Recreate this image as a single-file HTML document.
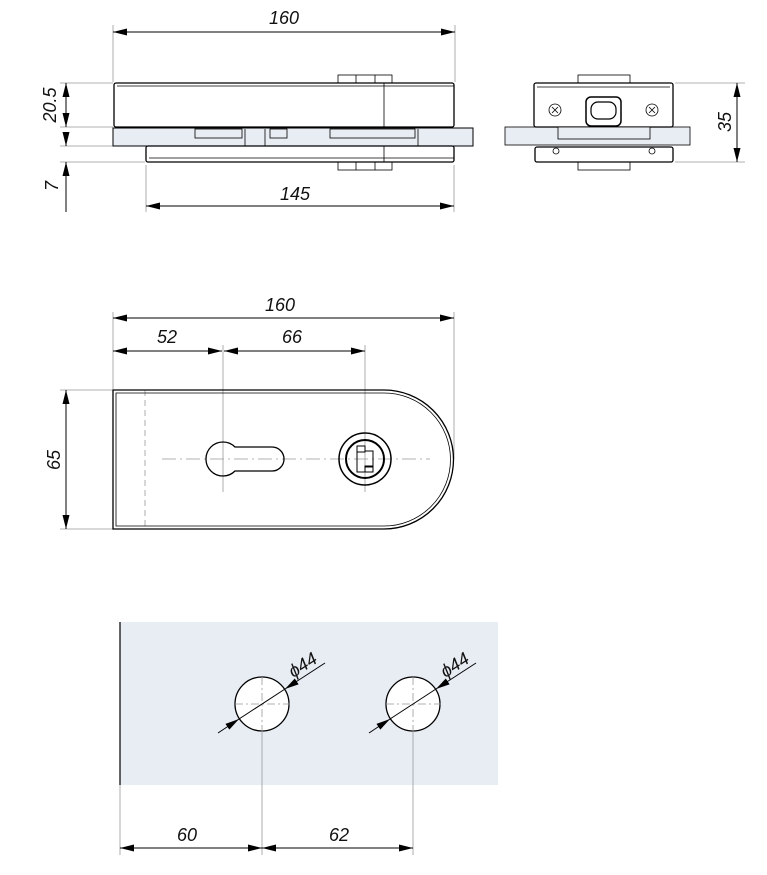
<!DOCTYPE html>
<html><head><style>body{margin:0;background:#fff}svg{display:block}text{font-family:"Liberation Sans",sans-serif;font-style:italic;font-size:18px;fill:#111}</style></head><body>
<svg width="767" height="875" viewBox="0 0 767 875" xmlns="http://www.w3.org/2000/svg">
<defs>
<marker id="a" viewBox="0 0 14 7" refX="14" refY="3.5" markerWidth="14" markerHeight="7" orient="auto-start-reverse" markerUnits="userSpaceOnUse"><path d="M0,0L14,3.5L0,7z" fill="#000"/></marker>
</defs>
<g stroke="#000" fill="none">
<g stroke="#999" stroke-width="0.8">
<line x1="113" y1="25" x2="113" y2="82"/><line x1="455" y1="25" x2="455" y2="82"/>
<line x1="60" y1="83" x2="113" y2="83"/><line x1="60" y1="127" x2="113" y2="127"/>
<line x1="60" y1="146" x2="113" y2="146"/><line x1="60" y1="162" x2="145" y2="162"/>
<line x1="146" y1="165" x2="146" y2="212"/><line x1="454" y1="165" x2="454" y2="212"/>
</g>
<line x1="113" y1="32" x2="455" y2="32" stroke-width="1" marker-start="url(#a)" marker-end="url(#a)"/>
<line x1="66" y1="83" x2="66" y2="127" marker-start="url(#a)" marker-end="url(#a)"/>
<line x1="66" y1="132" x2="66" y2="146" marker-end="url(#a)"/>
<line x1="66" y1="212" x2="66" y2="162" marker-end="url(#a)"/>
<line x1="146" y1="206" x2="454" y2="206" marker-start="url(#a)" marker-end="url(#a)"/>
<rect x="113" y="128" width="360" height="18" fill="#e8edf4" stroke-width="1"/>
<rect x="338" y="75" width="54" height="8" fill="#fff" stroke-width="0.8"/>
<line x1="356" y1="75" x2="356" y2="83" stroke-width="0.8"/><line x1="375" y1="75" x2="375" y2="83" stroke-width="0.8"/>
<rect x="338" y="162" width="54" height="8" fill="#fff" stroke-width="0.8"/>
<line x1="356" y1="162" x2="356" y2="170" stroke-width="0.8"/><line x1="375" y1="162" x2="375" y2="170" stroke-width="0.8"/>
<rect x="114" y="83" width="340" height="44" rx="2" fill="#fff" stroke-width="1.3"/>
<line x1="117" y1="86" x2="454" y2="86" stroke-width="0.8"/>
<line x1="384" y1="83" x2="384" y2="127" stroke-width="0.8"/>
<rect x="146" y="146" width="308" height="16" rx="2" fill="#fff" stroke-width="1.3"/>
<line x1="149" y1="158" x2="454" y2="158" stroke-width="0.8"/>
<line x1="384" y1="146" x2="384" y2="162" stroke-width="0.8"/>
<g stroke-width="0.8"><rect x="195" y="129" width="47" height="9"/><rect x="270" y="129" width="17" height="9"/><rect x="330" y="129" width="85" height="9"/>
<line x1="245" y1="129" x2="245" y2="146"/><line x1="265" y1="129" x2="265" y2="146"/><line x1="418" y1="129" x2="418" y2="146"/></g>
<rect x="505" y="127" width="185" height="18" fill="#e8edf4" stroke-width="0.8"/>
<rect x="578" y="75" width="52" height="8" fill="#fff" stroke-width="0.8"/>
<rect x="578" y="162" width="52" height="8" fill="#fff" stroke-width="0.8"/>
<rect x="534" y="83" width="139" height="44" rx="2" fill="#fff" stroke-width="1.3"/>
<line x1="537" y1="87" x2="670" y2="87" stroke-width="0.8"/>
<rect x="558" y="127" width="92" height="12" fill="#e8edf4" stroke-width="0.8"/>
<rect x="535" y="147" width="138" height="15" rx="2" fill="#fff" stroke-width="1.3"/>
<circle cx="556" cy="151" r="3" stroke-width="0.8"/><circle cx="652" cy="151" r="3" stroke-width="0.8"/>
<rect x="586" y="97" width="35" height="29" rx="5" stroke-width="1.5"/>
<rect x="591" y="102" width="25" height="17" rx="7" stroke-width="1.2"/>
<circle cx="555" cy="110" r="6" stroke-width="0.8"/><path d="M552,107l6,6M558,107l-6,6" stroke-width="0.8"/>
<circle cx="652" cy="110" r="6" stroke-width="0.8"/><path d="M649,107l6,6M655,107l-6,6" stroke-width="0.8"/>
<line x1="675" y1="83" x2="745" y2="83" stroke="#999" stroke-width="0.8"/><line x1="675" y1="162" x2="745" y2="162" stroke="#999" stroke-width="0.8"/>
<line x1="737" y1="83" x2="737" y2="162" marker-start="url(#a)" marker-end="url(#a)"/>
<g stroke="#999" stroke-width="0.8">
<line x1="113" y1="312" x2="113" y2="389"/><line x1="454" y1="312" x2="454" y2="459"/>
<line x1="223" y1="345" x2="223" y2="492"/><line x1="365" y1="345" x2="365" y2="492"/>
<line x1="60" y1="390" x2="113" y2="390"/><line x1="60" y1="529" x2="113" y2="529"/>
<line x1="162" y1="459" x2="430" y2="459" stroke-dasharray="14,4,2,4"/>
<line x1="145" y1="390" x2="145" y2="529" stroke-dasharray="6,4"/>
</g>
<line x1="113" y1="318" x2="454" y2="318" marker-start="url(#a)" marker-end="url(#a)"/>
<line x1="113" y1="351" x2="222" y2="351" marker-start="url(#a)" marker-end="url(#a)"/>
<line x1="224" y1="351" x2="365" y2="351" marker-start="url(#a)" marker-end="url(#a)"/>
<line x1="66" y1="390" x2="66" y2="529" marker-start="url(#a)" marker-end="url(#a)"/>
<path d="M113,390H384A69.5,69.5 0 0 1 384,529H113Z" stroke-width="1.3"/>
<path d="M116,393H384A66.5,66.5 0 0 1 384,526H116Z" stroke-width="0.8"/>
<path d="M235,447H272A12,12 0 0 1 272,471H235A17,17 0 1 1 235,447Z" stroke-width="1.3"/>
<circle cx="365" cy="459" r="26" stroke-width="1.5"/>
<circle cx="365" cy="459" r="19" stroke-width="2"/>
<path d="M357,446h8v5h8v16h-8v5h-8z" stroke-width="1"/>
<rect x="357" y="446" width="8" height="6" stroke-width="1"/><rect x="365" y="466" width="8" height="6" stroke-width="1"/>
<rect x="120" y="622" width="378" height="163" fill="#e8edf4" stroke="none"/>
<line x1="120" y1="622" x2="120" y2="785" stroke-width="1.2"/>
<g stroke="#999" stroke-width="0.8">
<line x1="120" y1="785" x2="120" y2="855"/><line x1="262" y1="733" x2="262" y2="855"/><line x1="413" y1="733" x2="413" y2="855"/>
</g>
<circle cx="262" cy="704" r="27" fill="#fff" stroke-width="1.3"/>
<circle cx="413" cy="704" r="27" fill="#fff" stroke-width="1.3"/>
<g stroke="#999" stroke-width="0.8">
<line x1="235" y1="704" x2="290" y2="704" stroke-dasharray="8,3,2,3"/><line x1="262" y1="677" x2="262" y2="733" stroke-dasharray="8,3,2,3"/>
<line x1="386" y1="704" x2="441" y2="704" stroke-dasharray="8,3,2,3"/><line x1="413" y1="677" x2="413" y2="733" stroke-dasharray="8,3,2,3"/>
</g>
<line x1="218" y1="733" x2="239" y2="719" marker-end="url(#a)"/>
<line x1="239" y1="719" x2="285" y2="689"/>
<line x1="325" y1="663" x2="285" y2="689" marker-end="url(#a)"/>
<line x1="369" y1="733" x2="390" y2="719" marker-end="url(#a)"/>
<line x1="390" y1="719" x2="436" y2="689"/>
<line x1="476" y1="663" x2="436" y2="689" marker-end="url(#a)"/>
<line x1="120" y1="848" x2="262" y2="848" marker-start="url(#a)" marker-end="url(#a)"/>
<line x1="262" y1="848" x2="413" y2="848" marker-start="url(#a)" marker-end="url(#a)"/>
</g>
<text x="284" y="24" text-anchor="middle">160</text>
<text x="295" y="200" text-anchor="middle">145</text>
<text transform="translate(56,105) rotate(-90)" text-anchor="middle">20.5</text>
<text transform="translate(58,186) rotate(-90)" text-anchor="middle">7</text>
<text transform="translate(731,122) rotate(-90)" text-anchor="middle">35</text>
<text x="280" y="311" text-anchor="middle">160</text>
<text x="167" y="343" text-anchor="middle">52</text>
<text x="292" y="343" text-anchor="middle">66</text>
<text transform="translate(60,460) rotate(-90)" text-anchor="middle">65</text>
<text transform="translate(306,670) rotate(-33)" text-anchor="middle">ϕ44</text>
<text transform="translate(458,670) rotate(-33)" text-anchor="middle">ϕ44</text>
<text x="187" y="841" text-anchor="middle">60</text>
<text x="339" y="841" text-anchor="middle">62</text>
</svg>
</body></html>
